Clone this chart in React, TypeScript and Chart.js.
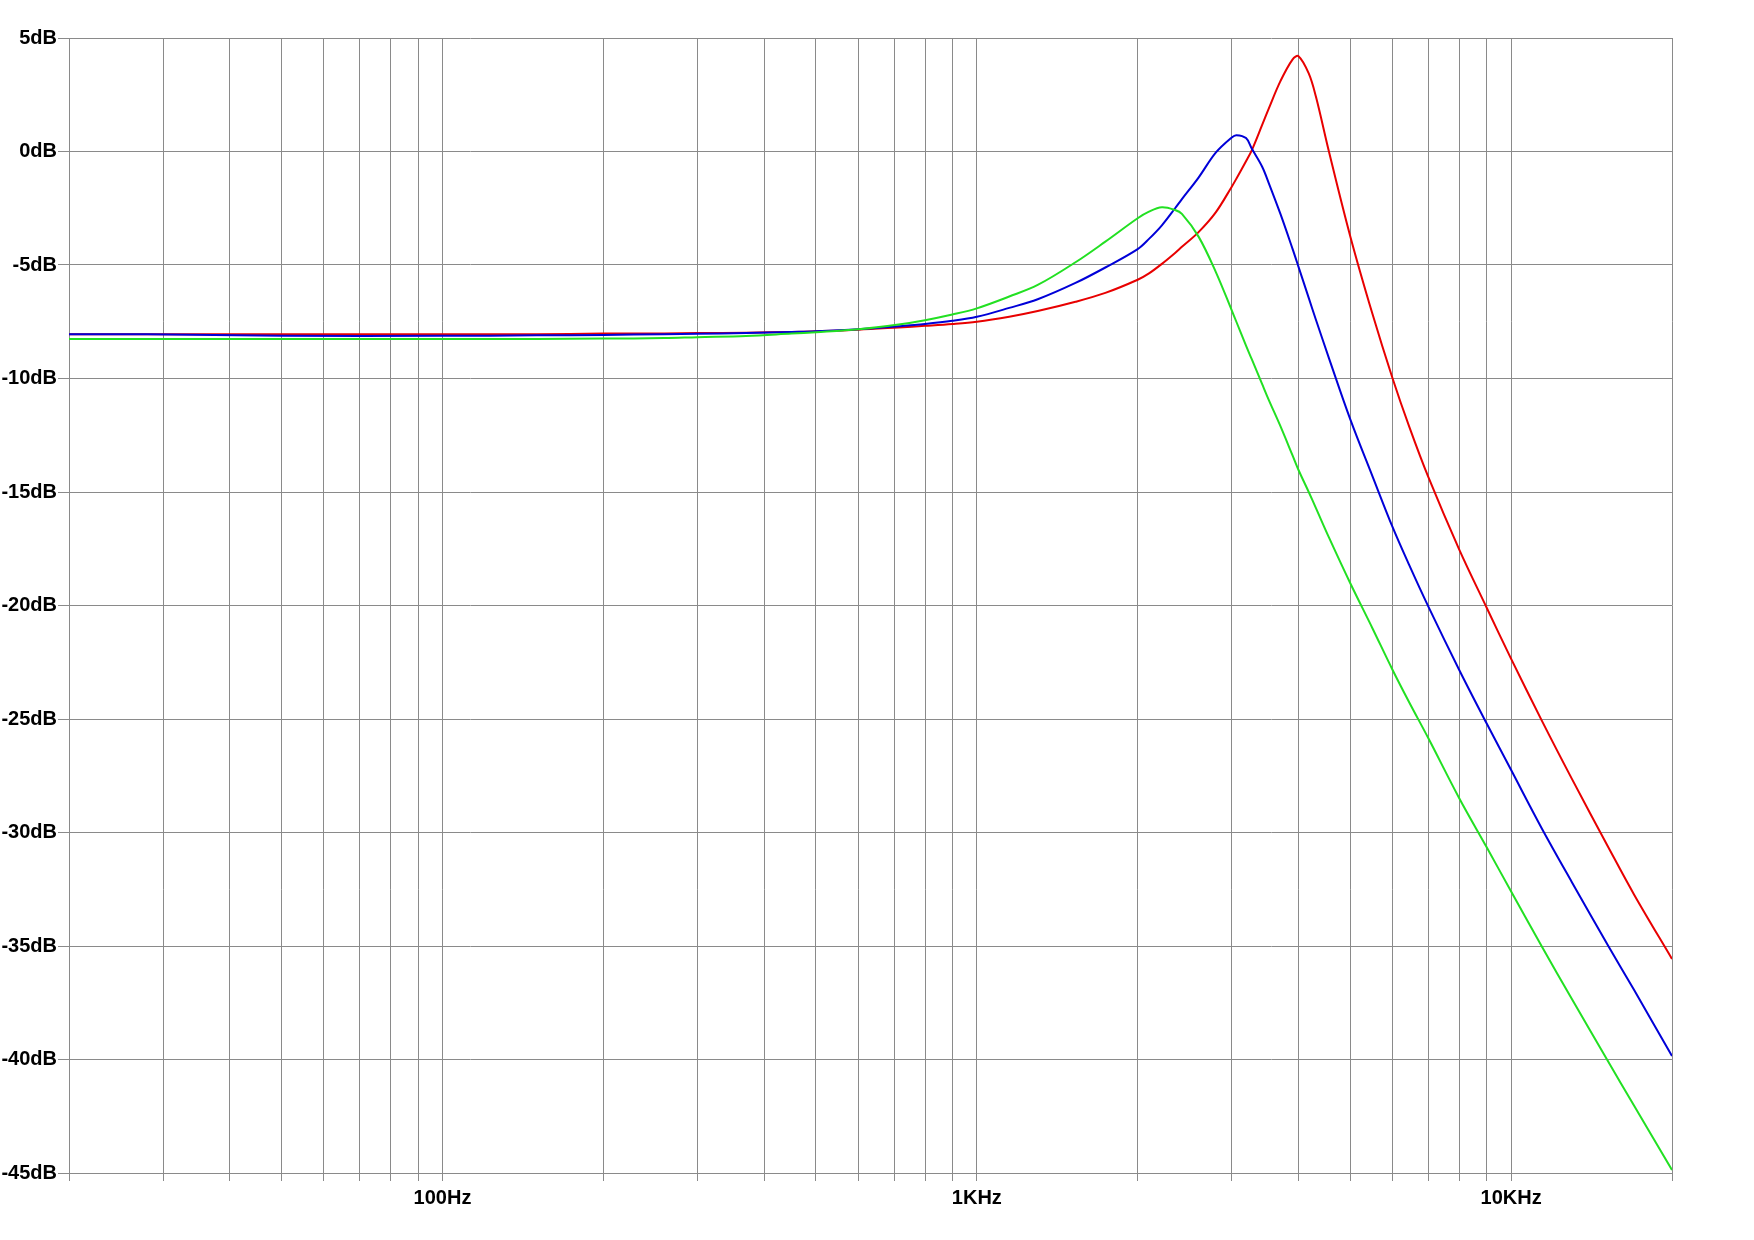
import React, { useEffect, useRef } from "react";
import { Chart, registerables } from "chart.js";

Chart.register(...registerables);

const FREQ_HZ = [20, 28, 50, 100, 150, 200, 260, 300, 370, 450, 500, 600, 714, 800, 900, 1000, 1150, 1300, 1530, 1740, 2000, 2100, 2220, 2350, 2420, 2600, 2800, 3000, 3060, 3190, 3270, 3420, 3520, 3700, 3900, 4000, 4180, 4310, 4560, 5000, 5500, 6000, 6440, 7000, 8000, 9000, 10000, 11400, 13000, 15200, 17000, 20000];

const RED_DB = [-8.05, -8.05, -8.05, -8.05, -8.05, -8.02, -8.02, -8.0, -7.98, -7.95, -7.92, -7.85, -7.75, -7.68, -7.6, -7.5, -7.28, -7.03, -6.62, -6.23, -5.65, -5.37, -4.95, -4.47, -4.2, -3.55, -2.68, -1.55, -1.2, -0.43, 0.05, 1.17, 1.9, 3.1, 4.06, 4.2, 3.44, 2.43, 0.0, -3.74, -7.15, -10.0, -12.1, -14.35, -17.55, -20.1, -22.35, -25.05, -27.65, -30.65, -32.75, -35.57];

const BLUE_DB = [-8.05, -8.05, -8.12, -8.12, -8.1, -8.08, -8.05, -8.03, -8.0, -7.95, -7.92, -7.83, -7.7, -7.6, -7.46, -7.28, -6.89, -6.51, -5.79, -5.11, -4.3, -3.85, -3.25, -2.5, -2.1, -1.15, -0.05, 0.62, 0.72, 0.59, 0.13, -0.67, -1.4, -2.75, -4.3, -5.08, -6.45, -7.4, -9.1, -11.8, -14.3, -16.55, -18.2, -20.05, -22.85, -25.2, -27.25, -29.8, -32.2, -35.0, -36.95, -39.85];

const GREEN_DB = [-8.26, -8.26, -8.26, -8.26, -8.26, -8.24, -8.22, -8.18, -8.13, -8.02, -7.96, -7.83, -7.62, -7.43, -7.18, -6.91, -6.39, -5.88, -4.88, -3.97, -2.94, -2.65, -2.46, -2.58, -2.75, -3.75, -5.3, -7.0, -7.5, -8.55, -9.15, -10.25, -10.95, -12.1, -13.4, -14.03, -15.0, -15.7, -17.0, -19.02, -21.0, -22.84, -24.25, -25.85, -28.5, -30.65, -32.6, -35.0, -37.35, -40.1, -42.05, -44.87];

const X_GRID_HZ = [20, 30, 40, 50, 60, 70, 80, 90, 100, 200, 300, 400, 500, 600, 700, 800, 900, 1000, 2000, 3000, 4000, 5000, 6000, 7000, 8000, 9000, 10000, 20000];
const X_LABELED_HZ = [100, 1000, 10000];
const X_LABEL_TEXT = ["100Hz", "1KHz", "10KHz"];

const Y_MIN = -45;
const Y_MAX = 5;
const Y_STEP = 5;

const toPoints = (vals: number[]) => FREQ_HZ.map((f, i) => ({ x: f, y: vals[i] }));

export default function App() {
  const ref = useRef<HTMLCanvasElement | null>(null);

  useEffect(() => {
    if (!ref.current) return;
    const gridColor = "#8a8a8a";
    const font = { family: "'Liberation Sans', Arial, sans-serif", size: 20, weight: "bold" as const };
    const line = { borderWidth: 2, pointRadius: 0, tension: 0.35 };
    const chart = new Chart(ref.current, {
      type: "line",
      data: {
        datasets: [
          { label: "green", data: toPoints(GREEN_DB), borderColor: "#22e022", ...line },
          { label: "blue", data: toPoints(BLUE_DB), borderColor: "#0000d8", ...line },
          { label: "red", data: toPoints(RED_DB), borderColor: "#e80000", ...line },
        ],
      },
      options: {
        animation: false,
        responsive: false,
        maintainAspectRatio: false,
        devicePixelRatio: 1,
        layout: { padding: { left: 0, top: 38, right: 82, bottom: 0 } },
        plugins: { legend: { display: false }, tooltip: { enabled: false } },
        scales: {
          x: {
            type: "logarithmic",
            min: 20,
            max: 20000,
            afterBuildTicks: (scale: any) => {
              scale.ticks = X_GRID_HZ.map((v) => ({ value: v }));
            },
            afterFit: (scale: any) => {
              scale.height = 67;
            },
            ticks: {
              autoSkip: false,
              maxRotation: 0,
              minRotation: 0,
              padding: 5,
              color: "#000",
              font,
              callback: (value: any) => {
                const idx = X_LABELED_HZ.indexOf(Number(value));
                return idx >= 0 ? X_LABEL_TEXT[idx] : "";
              },
            },
            grid: { color: gridColor, lineWidth: 1, tickLength: 8, drawTicks: true },
            border: { display: true, color: gridColor },
          },
          y: {
            type: "linear",
            min: Y_MIN,
            max: Y_MAX,
            afterFit: (scale: any) => {
              scale.width = 69;
            },
            ticks: {
              stepSize: Y_STEP,
              padding: 1,
              color: "#000",
              font,
              callback: (value: any) => `${value}dB`,
            },
            grid: { color: gridColor, lineWidth: 1, tickLength: 11 },
            border: { display: true, color: gridColor },
          },
        },
      },
    });
    return () => chart.destroy();
  }, []);

  return (
    <div style={{ position: "fixed", left: 0, top: 0, width: 1754, height: 1240, background: "#fff" }}>
      <canvas ref={ref} width={1754} height={1240} style={{ width: 1754, height: 1240 }} />
    </div>
  );
}
